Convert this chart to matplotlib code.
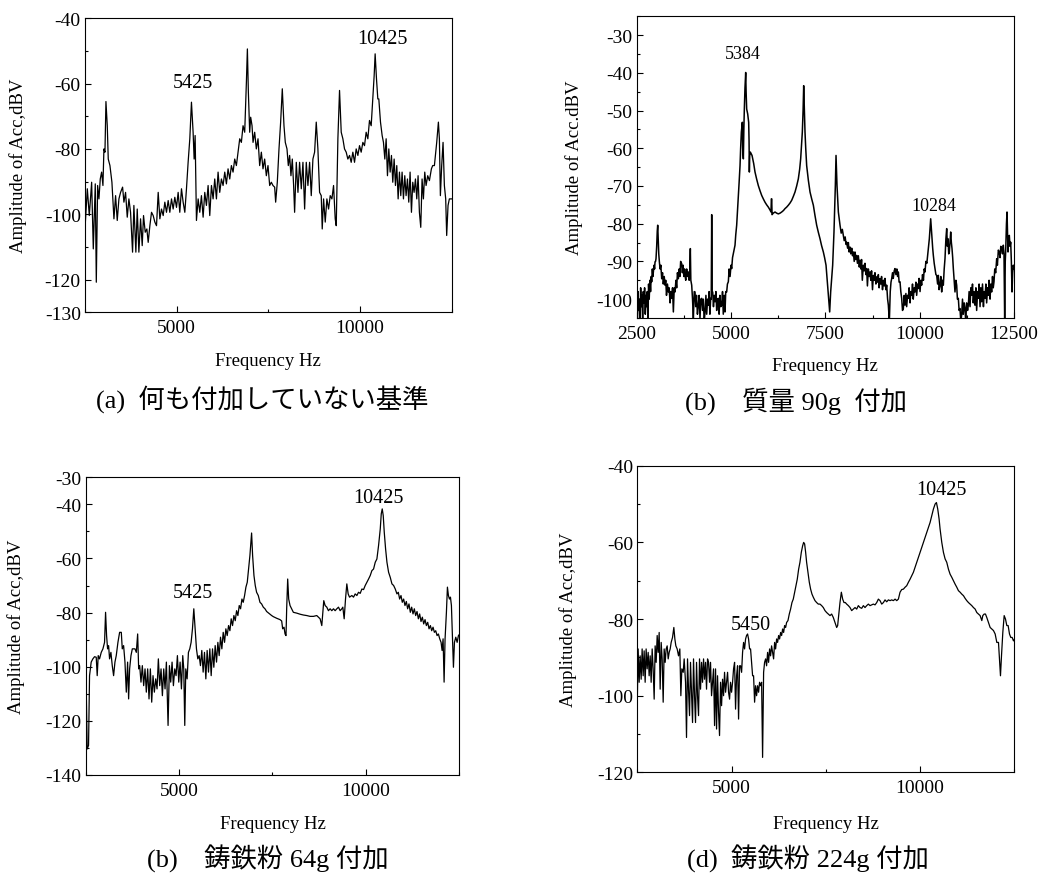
import matplotlib
matplotlib.use("Agg")
import matplotlib.pyplot as plt
from matplotlib.ticker import FixedLocator

plt.rcParams['font.family'] = ['Liberation Serif', 'Noto Sans CJK JP']
plt.rcParams['axes.unicode_minus'] = False

# (a) reference, nothing attached
freq_a = [2500, 2564, 2618, 2682, 2727, 2781, 2809, 2845, 2881, 2917,
          2954, 2990, 3017, 3045, 3072, 3108, 3135, 3181, 3235, 3290,
          3335, 3380, 3426, 3471, 3526, 3562, 3607, 3653, 3698, 3743,
          3798, 3834, 3888, 3925, 3970, 4016, 4061, 4097, 4143, 4188,
          4224, 4270, 4315, 4360, 4406, 4451, 4497, 4542, 4587, 4633,
          4678, 4723, 4769, 4814, 4860, 4905, 4950, 4996, 5041, 5086,
          5132, 5177, 5223, 5268, 5313, 5359, 5404, 5449, 5477, 5504,
          5540, 5586, 5631, 5676, 5722, 5767, 5812, 5858, 5903, 5949,
          5994, 6039, 6085, 6130, 6175, 6221, 6266, 6312, 6357, 6402,
          6448, 6493, 6538, 6584, 6629, 6675, 6720, 6765, 6811, 6856,
          6902, 6929, 6956, 6992, 7019, 7056, 7083, 7128, 7173, 7219,
          7264, 7310, 7355, 7400, 7446, 7491, 7537, 7582, 7627, 7673,
          7700, 7745, 7791, 7836, 7881, 7927, 7963, 8009, 8045, 8081,
          8117, 8154, 8190, 8217, 8263, 8308, 8353, 8399, 8444, 8490,
          8535, 8580, 8626, 8671, 8716, 8762, 8807, 8852, 8898, 8943,
          8970, 9007, 9052, 9097, 9143, 9188, 9234, 9279, 9324, 9352,
          9397, 9442, 9488, 9533, 9578, 9624, 9669, 9715, 9760, 9805,
          9851, 9896, 9942, 9987, 10032, 10078, 10123, 10168, 10214, 10259,
          10305, 10350, 10386, 10413, 10450, 10486, 10513, 10559, 10604, 10640,
          10677, 10713, 10749, 10786, 10822, 10858, 10894, 10931, 10967, 11003,
          11040, 11076, 11112, 11148, 11185, 11221, 11257, 11294, 11330, 11366,
          11403, 11439, 11475, 11512, 11548, 11584, 11620, 11657, 11693, 11729,
          11766, 11802, 11847, 11893, 11947, 11983, 12029, 12092, 12138, 12165,
          12192, 12228, 12265, 12301, 12337, 12364, 12401, 12437, 12500]
amp_a = [-104.5, -92.2, -100.4, -90.2, -110.6, -90.7, -120.8, -91.2, -95.3, -89.2,
         -87.1, -91.2, -80.0, -81.0, -65.5, -72.9, -83.1, -85.1, -90.2, -101.4,
         -94.3, -101.9, -95.3, -93.3, -91.7, -96.3, -93.3, -100.9, -95.3, -99.4,
         -111.6, -97.3, -111.6, -98.4, -111.6, -101.4, -109.6, -100.4, -105.5, -104.5,
         -108.6, -103.5, -99.4, -100.4, -102.4, -103.5, -93.3, -101.4, -98.4, -100.4,
         -96.3, -99.4, -95.8, -99.4, -95.3, -98.4, -94.8, -97.9, -93.3, -99.4,
         -92.2, -96.3, -99.4, -92.2, -84.1, -76.9, -65.7, -74.9, -83.1, -75.9,
         -101.9, -95.3, -99.4, -94.3, -100.9, -93.3, -97.3, -91.2, -100.4, -91.2,
         -95.3, -89.2, -95.3, -87.1, -93.3, -89.2, -91.2, -87.1, -90.7, -86.1,
         -89.2, -85.1, -87.1, -83.1, -85.1, -81.0, -76.9, -78.0, -72.9, -74.9,
         -59.6, -49.4, -62.7, -74.9, -70.3, -72.9, -78.0, -74.9, -80.0, -76.9,
         -85.1, -81.0, -86.1, -83.1, -88.2, -85.1, -91.2, -90.2, -91.2, -91.7,
         -96.3, -90.2, -80.0, -71.8, -61.6, -72.9, -78.0, -80.0, -85.1, -82.0,
         -88.2, -83.1, -91.2, -99.4, -84.1, -93.3, -84.1, -92.2, -84.1, -98.4,
         -84.1, -91.2, -84.1, -94.3, -83.1, -81.0, -71.8, -80.0, -93.3, -94.3,
         -104.5, -95.3, -102.4, -95.3, -98.4, -94.3, -95.3, -91.2, -101.4, -103.5,
         -76.9, -62.1, -74.9, -76.9, -80.0, -81.0, -83.1, -82.0, -84.1, -81.0,
         -84.1, -80.0, -82.0, -79.0, -81.0, -78.0, -79.0, -74.9, -76.9, -71.3,
         -72.9, -64.7, -57.6, -50.9, -58.6, -64.7, -64.7, -71.8, -75.9, -78.0,
         -83.1, -76.9, -88.2, -80.0, -87.1, -82.0, -90.2, -83.1, -91.2, -85.1,
         -95.3, -87.1, -94.3, -87.1, -95.3, -88.2, -94.3, -89.2, -96.3, -87.1,
         -99.4, -90.2, -93.3, -89.2, -95.3, -88.2, -99.4, -104.0, -89.2, -95.3,
         -87.1, -91.2, -88.2, -89.7, -86.1, -85.1, -85.1, -78.0, -71.8, -76.9,
         -94.3, -85.1, -78.0, -91.2, -95.3, -106.5, -97.3, -95.3, -95.3]

# (b) 90 g mass attached
freq_b = [2500, 2518, 2535, 2552, 2570, 2588, 2605, 2622, 2640, 2658,
          2675, 2692, 2710, 2728, 2745, 2762, 2780, 2798, 2815, 2832,
          2850, 2868, 2885, 2898, 2915, 2930, 2942, 2960, 2975, 2986,
          3000, 3012, 3030, 3045, 3057, 3070, 3085, 3101, 3120, 3140,
          3163, 3185, 3205, 3230, 3251, 3270, 3290, 3315, 3339, 3360,
          3385, 3405, 3428, 3450, 3472, 3495, 3516, 3540, 3560, 3580,
          3604, 3625, 3645, 3665, 3693, 3710, 3730, 3750, 3770, 3781,
          3800, 3825, 3845, 3869, 3890, 3905, 3922, 3935, 3958, 3980,
          4002, 4025, 4046, 4065, 4085, 4110, 4134, 4155, 4178, 4200,
          4223, 4245, 4265, 4290, 4311, 4335, 4355, 4380, 4399, 4420,
          4440, 4461, 4476, 4488, 4500, 4514, 4535, 4555, 4576, 4600,
          4620, 4640, 4664, 4685, 4705, 4730, 4753, 4775, 4795, 4820,
          4841, 4860, 4885, 4905, 4929,
          4950, 4975, 5000, 5018, 5040, 5060, 5080, 5106, 5125, 5150,
          5170, 5194, 5215, 5239, 5255, 5274, 5300, 5310, 5327, 5340,
          5353, 5370, 5389, 5400, 5415, 5442, 5468, 5478, 5486, 5495,
          5512, 5557, 5600, 5636, 5680, 5724, 5770, 5813, 5860, 5901,
          5945, 5989, 6030, 6060, 6070, 6078, 6088, 6120, 6166, 6210,
          6254, 6300, 6343, 6390, 6431, 6475, 6519, 6565, 6608, 6650,
          6696, 6740, 6784, 6820, 6846, 6870, 6890, 6910, 6926, 6945,
          6961, 6980, 7005, 7050, 7094, 7140, 7182, 7225, 7270, 7315,
          7359, 7400, 7447, 7480, 7518, 7553, 7588, 7615, 7641, 7694,
          7729, 7765, 7783, 7809, 7845,
          7889, 7920, 7950, 7977, 8000, 8025, 8050, 8065, 8090, 8110,
          8130, 8154, 8175, 8200, 8220, 8242, 8265, 8285, 8305, 8330,
          8350, 8375, 8400, 8419, 8440, 8460, 8480, 8507, 8530, 8550,
          8575, 8595, 8615, 8640, 8660, 8684, 8705, 8725, 8750, 8772,
          8795, 8815, 8840, 8860, 8880, 8905, 8925, 8949, 8970, 8990,
          9015, 9037, 9060, 9080, 9105, 9126, 9150, 9170, 9196, 9220,
          9240, 9258, 9280, 9300, 9325, 9346, 9370, 9395, 9415, 9435,
          9455, 9479, 9500, 9523, 9545, 9567, 9590, 9611, 9635, 9655,
          9680, 9700, 9720, 9745, 9765, 9788, 9810, 9830, 9855, 9876,
          9900, 9920, 9945, 9965, 9985, 10010, 10030, 10053, 10075, 10100,
          10120, 10141, 10165, 10190, 10212, 10235, 10256, 10275, 10292, 10310,
          10327, 10345, 10362, 10385, 10406, 10430, 10451, 10475, 10495, 10515,
          10539, 10560, 10583, 10605, 10627, 10650, 10671, 10695, 10716, 10735,
          10751, 10770, 10786, 10805, 10822, 10840, 10857, 10875, 10892, 10915,
          10936, 10960, 10981, 11000, 11025, 11045, 11069, 11090, 11113, 11135,
          11155, 11180, 11201, 11220, 11245, 11270, 11290, 11310, 11335, 11355,
          11378, 11400, 11420, 11445, 11466, 11490, 11510, 11535, 11555, 11575,
          11600, 11620, 11643, 11665, 11690, 11710, 11732, 11755, 11775, 11800,
          11820, 11840, 11865, 11885, 11908, 11930, 11950, 11970, 11990, 12015,
          12041, 12060, 12085, 12111, 12130, 12150, 12173, 12195, 12217, 12235,
          12253, 12268, 12279, 12300, 12315, 12330, 12341, 12360, 12376, 12395,
          12412, 12430, 12447, 12465, 12482, 12500]
amp_b = [-99, -106, -98, -103, -100, -107, -97, -102, -99, -106,
         -98, -101, -97, -104, -99, -102, -98, -106, -96, -100,
         -95, -98, -94, -95.4, -92, -94, -92.8, -91, -92, -90.1,
         -90, -89.3, -86, -82, -80.4, -84, -88, -90.1, -92, -91,
         -94.6, -93, -96, -94, -96.3, -95, -99, -96, -98.1, -97,
         -101, -98, -99.8, -97, -103.4, -97, -98.1, -95, -97, -93,
         -94.6, -92, -94, -90, -90.6, -93, -91, -94, -92, -93.7,
         -95, -92, -94, -92.8, -95, -93, -86.6, -95, -96.3, -100,
         -105.1, -98, -98.1, -102, -99, -104, -101.6, -99, -105, -100,
         -99.8, -103, -100, -106, -103.4, -99, -104, -100, -101.6, -98,
         -104, -99.8, -100, -77.6, -98, -98.1, -102, -99, -100.7, -98,
         -103, -100, -99.8, -104, -99, -102, -101.6, -98, -104, -99,
         -103.4, -98, -98.1, -96, -95.4,
         -92, -94, -91, -91.9, -89, -88, -87, -85.7, -83, -80.4,
         -77, -73.4, -69, -64.6, -60, -55.7, -53.1, -60, -62.8, -55,
         -49.6, -44, -39.9, -45, -49.6, -50.9, -53.1, -58, -66.3, -62,
         -61.0, -61.9, -64, -66.3, -68.2, -69.9, -71.3, -72.5, -73.5, -74.3,
         -75.0, -75.6, -76.3, -76.9, -73.4, -73.4, -77.6, -77.2, -76.9, -77.2,
         -77.4, -77.2, -76.9, -76.5, -76.0, -75.6, -75.1, -74.5, -73.8, -72.8,
         -71.6, -70.0, -68.1, -65.5, -62.8, -59, -55.7, -50, -43.4, -50,
         -55.7, -60, -64.6, -68.5, -71.6, -73.5, -75.1, -77.8, -80.4, -82.3,
         -84.0, -85.8, -87.5, -89, -91.0, -95.4, -99.8, -103.4, -98.1, -91.0,
         -82.2, -69.9, -61.9, -69.9, -76.9,
         -80.4, -82.5, -81.5, -83.1, -84.5, -83.5, -85.5, -84.9, -86.5, -85.0,
         -87.5, -86.2, -88.0, -86.5, -88.5, -87.5, -90.0, -87.5, -89.5, -88.4,
         -90.5, -88.5, -91.5, -89.7, -92.0, -89.5, -95.0, -91.0, -92.5, -90.5,
         -93.5, -91.9, -96.5, -92.0, -94.0, -92.8, -95.0, -92.5, -97.5, -93.7,
         -95.0, -93.0, -96.0, -94.1, -95.5, -93.5, -97.0, -94.6, -96.0, -94.0,
         -97.5, -95.0, -96.5, -94.5, -97.5, -96.3, -100, -101.6, -106, -98,
         -95.5, -94.6, -93, -94.5, -92.5, -91.9, -93.5, -92, -94, -92.8,
         -95.5, -95.4, -98, -99.8, -103, -102.5, -99, -101.6, -98.5, -102,
         -99, -99.8, -97, -101, -98, -99.0, -96, -100, -97, -98.1,
         -95.5, -99, -96, -97.2, -94.5, -98, -95, -96.3, -93.5, -95,
         -92, -92.8, -90, -90.5, -88.4, -86, -84.0, -81, -78.7, -81.5,
         -84.0, -86.5, -88.4, -90.5, -91.9, -93.5, -93.7, -96, -93.7, -97.5,
         -96.3, -94, -98.1, -95, -96.3, -92, -89.3, -84, -81.3, -86,
         -84.0, -88, -87.5, -84.5, -82.2, -85, -86.6, -89, -91.9, -95,
         -98.1, -95, -96.3, -100, -99.8, -103, -102.5, -106, -104.2, -100,
         -104, -101, -102.5, -106, -101, -103, -101.6, -98, -102, -97,
         -99, -96, -101, -98, -101.6, -97, -103, -98, -99.8, -96,
         -102, -97, -100.7, -96, -102, -98, -99.8, -96, -101, -97,
         -99, -95, -100, -96, -98.1, -94, -97, -95.4, -92, -93,
         -89.3, -91, -87, -87.5, -89, -86, -86.6, -88, -85.7, -88,
         -106, -90, -87.5, -80, -76.9, -83, -87.5, -84, -83.1, -86,
         -84.9, -90, -98.1, -93, -91.0, -92]

# (c) 64 g cast iron powder
freq_c = [2490, 2513, 2540, 2576, 2603, 2647, 2692, 2737, 2782, 2808,
          2835, 2871, 2916, 2961, 3005, 3032, 3059, 3086, 3113, 3139,
          3175, 3211, 3247, 3283, 3318, 3363, 3408, 3453, 3479, 3515,
          3551, 3587, 3622, 3649, 3676, 3712, 3748, 3783, 3819, 3855,
          3891, 3918, 3945, 3980, 4016, 4052, 4088, 4123, 4159, 4195,
          4231, 4267, 4302, 4338, 4374, 4410, 4445, 4481, 4517, 4553,
          4589, 4624, 4660, 4705, 4741, 4776, 4812, 4848, 4884, 4919,
          4955, 4991, 5027, 5063, 5098, 5125, 5152, 5179, 5215, 5250,
          5286, 5322, 5358, 5394, 5429, 5465, 5501, 5537, 5572, 5608,
          5644, 5680, 5716, 5751, 5787, 5823, 5859, 5895, 5930, 5966,
          6002, 6038, 6073, 6109, 6145, 6181, 6217, 6252, 6288, 6324,
          6360, 6395, 6431, 6467, 6503, 6539, 6574, 6610, 6646, 6682,
          6717, 6753, 6789, 6825, 6861, 6896, 6923, 6941, 6968, 7004,
          7039, 7075, 7120, 7165, 7209, 7254, 7299, 7344, 7388, 7433,
          7478, 7522, 7612, 7701, 7746, 7773, 7809, 7836, 7862, 7880,
          7907, 7934, 7970, 8014, 8059, 8149, 8238, 8328, 8417, 8506,
          8596, 8685, 8730, 8775, 8820, 8846, 8873, 8909, 8954, 8998,
          9043, 9088, 9133, 9177, 9222, 9267, 9311, 9356, 9383, 9419,
          9455, 9490, 9526, 9562, 9625, 9669, 9714, 9759, 9803, 9848,
          9893, 9938, 9982, 10027, 10072, 10117, 10161, 10206, 10251, 10295,
          10340, 10385, 10412, 10438, 10465, 10492, 10528, 10564, 10608, 10653,
          10698, 10743, 10787, 10832, 10868, 10904, 10940, 10975, 11011, 11047,
          11083, 11118, 11154, 11190, 11226, 11262, 11297, 11333, 11369, 11405,
          11440, 11476, 11512, 11548, 11584, 11619, 11655, 11691, 11727, 11762,
          11798, 11834, 11870, 11906, 11941, 11977, 12013, 12040, 12067, 12094,
          12120, 12156, 12183, 12210, 12237, 12264, 12290, 12317, 12344, 12371,
          12407, 12443, 12478, 12514]
amp_c = [-108.2, -107.0, -130.4, -129.1, -103.3, -98.3, -97.1, -96.3, -96.5, -103.3,
         -95.9, -97.1, -94.7, -93.4, -91.0, -79.9, -88.5, -93.4, -92.2, -97.1,
         -94.7, -99.6, -103.3, -98.3, -95.9, -91.0, -87.3, -87.3, -93.4, -92.2,
         -98.3, -109.4, -98.3, -111.9, -100.8, -95.9, -93.4, -93.4, -93.4, -94.7,
         -87.9, -100.8, -99.6, -105.7, -99.6, -107.0, -100.8, -109.4, -100.8, -111.9,
         -100.8, -113.1, -103.3, -109.4, -104.5, -108.2, -97.1, -107.0, -100.8, -110.7,
         -100.8, -108.2, -98.3, -121.7, -99.6, -105.7, -98.3, -107.0, -100.8, -103.3,
         -95.9, -105.7, -98.3, -108.2, -95.9, -100.8, -121.7, -100.8, -104.5, -94.7,
         -93.4, -91.0, -86.0, -78.6, -86.0, -93.4, -97.1, -95.9, -99.6, -94.0,
         -102.0, -94.7, -104.5, -94.0, -102.0, -93.4, -103.3, -93.4, -100.2, -92.2,
         -98.3, -91.0, -95.9, -89.1, -93.4, -87.3, -91.0, -86.0, -88.5, -84.8,
         -86.7, -82.3, -84.8, -81.1, -83.0, -79.3, -81.1, -77.4, -78.6, -75.0,
         -76.2, -73.7, -70.6, -68.8, -63.9, -58.9, -54.0, -50.6, -58.9, -66.3,
         -70.0, -72.5, -73.7, -76.2, -76.8, -78.0, -78.6, -79.6, -80.1, -80.6,
         -81.1, -81.5, -82.1, -82.6, -83.1, -86.0, -85.4, -87.9, -88.5, -78.6,
         -67.6, -75.0, -77.4, -78.6, -79.9, -80.2, -80.6, -80.9, -81.1, -81.4,
         -81.4, -81.1, -81.7, -82.3, -84.8, -80.5, -75.6, -77.4, -78.0, -79.3,
         -78.6, -79.3, -78.6, -79.3, -78.6, -78.0, -79.3, -78.6, -78.0, -82.3,
         -75.0, -69.4, -73.1, -74.3, -73.7, -74.3, -73.1, -73.7, -72.5, -72.9,
         -71.3, -71.5, -70.0, -68.8, -67.6, -66.3, -64.5, -63.9, -61.4, -60.2,
         -55.2, -49.1, -43.5, -41.7, -44.2, -50.3, -56.5, -61.4, -65.1, -67.0,
         -69.4, -70.0, -71.3, -73.1, -72.5, -75.0, -73.7, -76.2, -75.0, -77.4,
         -75.9, -78.6, -76.8, -79.9, -78.0, -80.5, -78.6, -81.1, -79.6, -82.3,
         -80.5, -83.3, -81.7, -84.2, -82.6, -84.8, -83.6, -86.0, -84.8, -86.7,
         -85.4, -87.3, -86.7, -88.5, -87.9, -89.7, -91.0, -94.0, -89.7, -105.7,
         -89.7, -79.9, -70.6, -73.7, -75.0, -74.3, -77.4, -88.5, -100.2, -91.0,
         -89.1, -91.0, -88.5, -87.9]

# (d) 224 g cast iron powder
freq_d = [2495, 2522, 2549, 2575, 2602, 2628, 2655, 2681, 2708, 2734,
          2761, 2788, 2814, 2841, 2867, 2894, 2920, 2947, 2973, 3000,
          3027, 3053, 3080, 3106, 3133, 3159, 3186, 3212, 3239, 3265,
          3292, 3319, 3345, 3372, 3398,
          3434, 3469, 3496, 3522, 3557, 3593, 3628, 3655, 3681, 3717,
          3743, 3779, 3805,
          3832, 3858, 3885, 3911, 3938, 3965, 3991, 4018, 4044, 4071,
          4097, 4124, 4150, 4177, 4204, 4230, 4257, 4283, 4310, 4336,
          4363, 4389, 4416, 4442, 4469, 4496, 4522, 4549, 4575, 4602,
          4628, 4655, 4681, 4708, 4735, 4761, 4788, 4814, 4841, 4867,
          4894, 4920, 4947, 4973, 5000, 5027, 5053, 5080, 5106, 5133,
          5159, 5186, 5212, 5239, 5266, 5292, 5319, 5345, 5372, 5398,
          5425, 5451, 5478, 5504, 5531, 5558, 5584, 5611, 5637, 5664,
          5690, 5717, 5743, 5770, 5797, 5823, 5850, 5876, 5903, 5929,
          5956, 5982, 6009, 6035, 6062, 6089, 6115, 6142, 6168, 6195,
          6221, 6248, 6274, 6301, 6328, 6354, 6381, 6407, 6434, 6460,
          6496, 6531, 6566, 6602, 6637, 6673, 6708, 6743, 6779, 6814,
          6850, 6885,
          6912, 6938, 6965, 6991,
          7027, 7062, 7097, 7133, 7168,
          7213, 7257, 7301, 7345, 7390, 7434, 7478, 7522, 7567, 7611,
          7655, 7699, 7744, 7788,
          7814, 7841, 7876, 7912, 7947, 7982, 8018, 8053,
          8098, 8142, 8186, 8230, 8275, 8319, 8363, 8407, 8452, 8496,
          8540, 8584, 8629, 8673, 8717, 8761, 8806, 8850, 8894, 8938,
          8983, 9027, 9071, 9115, 9160, 9204, 9248, 9292, 9337, 9381,
          9425, 9469, 9514, 9558, 9602, 9646, 9691, 9735, 9779, 9823,
          9868, 9912, 9956, 10000, 10045, 10089, 10133, 10177, 10222, 10266,
          10310, 10354, 10399,
          10434, 10469, 10505, 10531,
          10576, 10620, 10664, 10708, 10753, 10797, 10841, 10885, 10930, 10974,
          11018, 11062, 11107, 11151, 11195, 11239, 11284, 11328, 11372, 11416,
          11461, 11505, 11549, 11593, 11638,
          11664, 11700, 11735, 11770,
          11815, 11859, 11903, 11947, 11992, 12036, 12080,
          12107, 12133, 12160,
          12195, 12231, 12266, 12301, 12336, 12372, 12407, 12443, 12478,
          12505]
amp_d = [-104.3, -87.8, -96.5, -89.6, -95.7, -87.8, -94.8, -88.3, -96.5, -87.8,
         -93.0, -88.7, -94.8, -89.6, -96.5, -87.8, -93.0, -100.9, -87.0, -91.3,
         -84.3, -88.7, -83.5, -98.3, -86.1, -90.4, -101.7, -87.8, -91.3, -87.8,
         -87.0, -90.4, -88.7, -87.8, -86.1,
         -84.8, -82.2, -85.2, -87.0, -87.8, -89.6, -87.8, -100.0, -93.0, -93.9,
         -90.4, -96.5, -110.9,
         -90.4, -98.3, -105.2, -91.3, -99.1, -107.0, -90.4, -100.0, -107.0, -91.3,
         -100.0, -105.2, -90.4, -98.3, -91.3, -96.5, -90.4, -95.7, -91.3, -98.3,
         -90.4, -91.3, -96.5, -91.3, -100.0, -96.5, -93.0, -107.8, -93.0, -108.7,
         -94.8, -104.3, -110.4, -96.5, -102.6, -95.7, -100.0, -93.9, -99.1, -96.5,
         -93.9, -99.1, -100.9, -96.5, -99.1, -96.5, -93.0, -91.3, -103.5, -94.8,
         -92.2, -106.1, -92.2, -92.2, -93.9, -88.7, -86.1, -87.8, -85.2, -84.3,
         -83.9, -85.2, -87.8, -87.8, -91.3, -94.8, -94.8, -101.7, -97.4, -100.0,
         -97.4, -99.1, -96.5, -97.4, -96.5, -116.1, -93.9, -91.3, -90.4, -92.2,
         -88.7, -91.3, -87.8, -89.6, -87.0, -88.7, -90.4, -86.1, -87.8, -85.2,
         -86.1, -84.3, -85.2, -83.5, -84.3, -82.6, -83.5, -81.7, -82.2, -80.9,
         -80.4, -78.7, -77.4, -75.7, -74.8, -73.0, -71.3, -69.6, -67.0, -65.2,
         -62.6, -60.9,
         -60.0, -60.4, -62.6, -65.2,
         -67.8, -70.4, -72.2, -73.5, -74.3,
         -75.2, -75.7, -76.1, -76.1, -76.5, -77.0, -77.8, -78.3, -78.7, -79.1,
         -78.7, -79.6, -80.9, -82.2,
         -81.7, -79.1, -75.7, -73.0, -74.8, -75.7, -75.7, -76.1,
         -76.5, -77.0, -77.8, -77.4, -77.0, -77.4, -76.5, -77.0, -77.2, -76.5,
         -77.0, -76.5, -76.1, -76.5, -76.3, -76.1, -76.3, -75.7, -74.8, -75.2,
         -76.1, -75.7, -75.0, -75.5, -75.0, -75.2, -75.0, -75.2, -74.8, -75.2,
         -74.8, -73.0, -72.3, -72.2, -71.7, -71.3, -70.4, -69.6, -68.7, -67.8,
         -66.5, -65.2, -63.9, -62.6, -61.3, -60.0, -58.7, -57.4, -56.1, -54.8,
         -53.0, -51.3, -50.0,
         -49.6, -51.3, -53.9, -56.5,
         -60.0, -62.6, -64.3, -65.2, -67.0, -68.3, -69.1, -70.0, -70.9, -71.7,
         -72.6, -73.0, -73.5, -73.9, -74.6, -75.2, -75.7, -76.1, -76.5, -77.0,
         -77.4, -78.3, -78.7, -79.1, -80.4,
         -79.1, -78.7, -78.7, -79.6,
         -80.9, -82.2, -82.6, -83.0, -83.9, -86.1, -86.1,
         -90.4, -94.8, -89.6,
         -83.5, -79.1, -80.0, -81.7, -81.7, -83.9, -84.8, -84.8, -85.7,
         -85.2]

# peak labels: (text, x, y)
labels_a = [("5425", 5449, -59.6), ("10425", 10613, -46.1)]
labels_b = [("5384", 5300, -34.8), ("10284", 10380, -75.3)]
labels_c = [("5425", 5376, -72.5), ("10425", 10331, -37.4)]
labels_d = [("5450", 5522, -81.3), ("10425", 10558, -46.1)]

captions = ["(a)  何も付加していない基準", "(b)　質量 90g  付加",
            "(b)　鋳鉄粉 64g 付加", "(d)  鋳鉄粉 224g 付加"]


def setup(ax, ylim, major_y, minor_y, xmajor, xminor, ylabel, ylab_x, xlab_y):
    ax.set_xlim(2500, 12500)
    ax.set_ylim(*ylim)
    ax.yaxis.set_major_locator(FixedLocator(major_y))
    ax.yaxis.set_minor_locator(FixedLocator(minor_y))
    ax.xaxis.set_major_locator(FixedLocator(xmajor))
    ax.xaxis.set_minor_locator(FixedLocator(xminor))
    ax.tick_params(which='both', direction='in', top=False, right=False,
                   width=0.8, labelsize=14)
    ax.tick_params(which='major', length=4.5)
    ax.tick_params(which='minor', length=2.5)
    ax.tick_params(axis='x', pad=5)
    ax.tick_params(axis='y', pad=3)
    for s in ax.spines.values():
        s.set_linewidth(0.8)
    ax.set_ylabel(ylabel, fontsize=13.5)
    ax.set_xlabel("Frequency Hz", fontsize=13.5)
    ax.yaxis.set_label_coords(ylab_x, 0.5)
    ax.xaxis.set_label_coords(0.5, xlab_y)


fig = plt.figure(figsize=(10.4, 8.78), dpi=100)

ax_a = fig.add_axes([0.0817, 0.6432, 0.3526, 0.3349])
ax_b = fig.add_axes([0.6122, 0.6367, 0.3628, 0.3436])
ax_c = fig.add_axes([0.0824, 0.1162, 0.3592, 0.3391])
ax_d = fig.add_axes([0.6128, 0.1192, 0.3625, 0.3492])

ax_a.plot(freq_a, amp_a, color='black', lw=0.9)
setup(ax_a, (-130, -40), [-130, -120, -100, -80, -60, -40], [-110, -90, -70, -50],
      [5000, 10000], [2500, 7500, 12500], "Amplitude of Acc,dBV", -0.158, -0.136)

ax_b.plot(freq_b, amp_b, color='black', lw=1.1)
setup(ax_b, (-105, -25), list(range(-100, -29, 10)), list(range(-105, -24, 5)),
      [2500, 5000, 7500, 10000, 12500], [3750, 6250, 8750, 11250],
      "Amplitude of Acc.dBV", -0.142, -0.129)

ax_c.plot(freq_c, amp_c, color='black', lw=0.9)
setup(ax_c, (-140, -30), [-140, -120, -100, -80, -60, -40, -30],
      [-130, -110, -90, -70, -50], [5000, 10000], [2500, 7500, 12500],
      "Amplitude of Acc,dBV", -0.162, -0.134)

ax_d.plot(freq_d, amp_d, color='black', lw=0.9)
setup(ax_d, (-120, -40), [-120, -100, -80, -60, -40], [-110, -90, -70, -50],
      [5000, 10000], [2500, 7500, 12500], "Amplitude of Acc,dBV", -0.160, -0.140)

for ax, labs, fs in [(ax_a, labels_a, 14.5), (ax_b, labels_b, 13),
                     (ax_c, labels_c, 14.5), (ax_d, labels_d, 14.5)]:
    for txt, x, y in labs:
        ax.text(x, y, txt, ha='center', va='center', fontsize=fs)

cap_pos = [(262, 399), (796, 401), (268, 859), (808, 859)]
for cap, (cx, cy) in zip(captions, cap_pos):
    fig.text(cx / 1040, 1 - cy / 878, cap, ha='center', va='center', fontsize=19)

fig.savefig("out.png", dpi=100)
